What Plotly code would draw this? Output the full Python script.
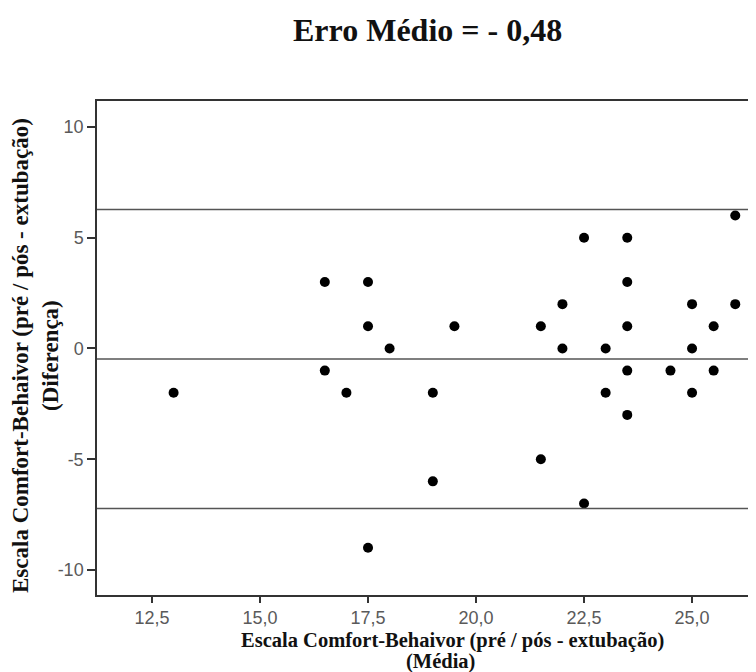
import plotly.graph_objects as go

# Data (Bland-Altman): mean of pre/post scores vs difference
media = [13, 16.5, 16.5, 17, 17.5, 17.5, 17.5, 18, 19, 19, 19.5,
         21.5, 21.5, 22, 22, 22.5, 22.5, 23, 23, 23.5, 23.5, 23.5, 23.5, 23.5,
         24.5, 25, 25, 25, 25.5, 25.5, 26, 26]
diferenca = [-2, 3, -1, -2, 3, 1, -9, 0, -2, -6, 1,
             1, -5, 2, 0, 5, -7, 0, -2, 5, 3, 1, -1, -3,
             -1, 2, 0, -2, 1, -1, 6, 2]
erro_medio = -0.48
limite_sup = 6.27
limite_inf = -7.23
x_ticks = [12.5, 15.0, 17.5, 20.0, 22.5, 25.0]
x_tick_labels = ["12,5", "15,0", "17,5", "20,0", "22,5", "25,0"]
y_ticks = [10, 5, 0, -5, -10]
y_tick_labels = ["10", "5", "0", "-5", "-10"]

# page body has an 8px margin, so the figure is laid out 8px smaller
OFF = 8
W, H = 756 - OFF, 672 - OFF
L, R, T, B = 97 - OFF, 0, 101 - OFF, 672 - 595
pw, ph = W - L - R, H - T - B

def px_x(p):
    return (p - OFF - L) / pw

def px_y(p):
    return (H - B - (p - OFF)) / ph

fig = go.Figure()
fig.add_trace(go.Scatter(
    x=media, y=diferenca, mode="markers",
    marker=dict(color="black", size=10, line=dict(width=0)),
    showlegend=False, cliponaxis=False,
))

for yv in [limite_sup, erro_medio, limite_inf]:
    fig.add_hline(y=yv, line=dict(color="#555555", width=1.5))

tick_font = dict(family="Liberation Sans, Arial, sans-serif", size=18, color="#5a5a5a")
serif = "Liberation Serif, Times New Roman, serif"

fig.update_xaxes(
    range=[11.227, 26.48], tickvals=x_ticks, ticktext=x_tick_labels,
    ticks="outside", ticklen=6, tickwidth=1.5, tickcolor="#333333",
    showline=True, linecolor="#333333", linewidth=1.5, mirror=True,
    showgrid=False, zeroline=False, tickfont=tick_font,
)
fig.update_yaxes(
    range=[-11.13, 11.17], tickvals=y_ticks, ticktext=y_tick_labels,
    ticks="outside", ticklen=8, tickwidth=1.5, tickcolor="#333333",
    showline=True, linecolor="#333333", linewidth=1.5, mirror=False,
    showgrid=False, zeroline=False, tickfont=tick_font,
)

fig.add_annotation(
    text="<b>Erro Médio = - 0,48</b>", xref="paper", yref="paper",
    x=px_x(427), y=px_y(30), xanchor="center", yanchor="middle",
    showarrow=False, font=dict(family=serif, size=32, color="#111111"),
)
fig.add_annotation(
    text="<b>Escala Comfort-Behaivor (pré / pós - extubação)</b>", xref="paper", yref="paper",
    x=px_x(453), y=px_y(640), xanchor="center", yanchor="middle",
    showarrow=False, font=dict(family=serif, size=20.5, color="#111111"),
)
fig.add_annotation(
    text="<b>(Média)</b>", xref="paper", yref="paper",
    x=px_x(440), y=px_y(661), xanchor="center", yanchor="middle",
    showarrow=False, font=dict(family=serif, size=20.5, color="#111111"),
)
fig.add_annotation(
    text="<b>Escala Comfort-Behaivor (pré / pós - extubação)<br>(Diferença)</b>",
    xref="paper", yref="paper",
    x=px_x(35), y=px_y(356), xanchor="center", yanchor="middle",
    textangle=-90, showarrow=False, font=dict(family=serif, size=23, color="#111111"),
)

fig.update_layout(
    width=W, height=H,
    margin=dict(l=L, r=R, t=T, b=B),
    paper_bgcolor="white", plot_bgcolor="white",
    separators=",.",
)

fig.write_html("out.html")
